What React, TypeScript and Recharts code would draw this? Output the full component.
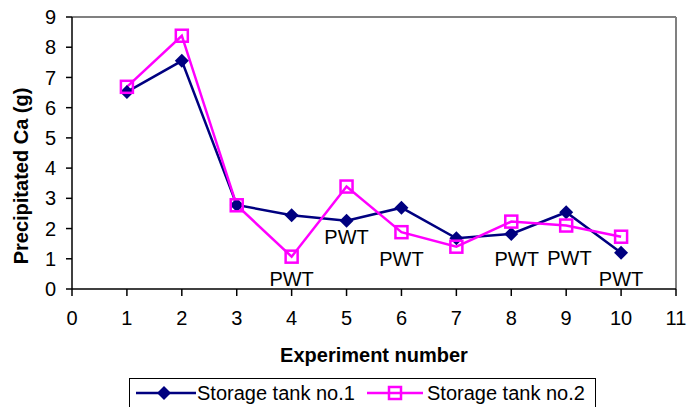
import { ComposedChart, Line, XAxis, YAxis, ReferenceLine, ReferenceDot } from 'recharts';

const experiments = [1, 2, 3, 4, 5, 6, 7, 8, 9, 10];
const tank1 = [6.52, 7.55, 2.78, 2.44, 2.26, 2.69, 1.68, 1.82, 2.54, 1.2];
const tank2 = [6.69, 8.38, 2.77, 1.07, 3.39, 1.88, 1.4, 2.23, 2.1, 1.73];

// "PWT" annotations (experiment, height in g)
const pwtX = [4, 5, 6, 8.1, 9.06, 10];
const pwtY = [0.34, 1.71, 0.99, 0.99, 1.04, 0.33];

const xTicks = [0, 1, 2, 3, 4, 5, 6, 7, 8, 9, 10, 11];
const yTicks = [0, 1, 2, 3, 4, 5, 6, 7, 8, 9];

const data = experiments.map((x, i) => ({ x, tank1: tank1[i], tank2: tank2[i] }));

const FONT = '"Liberation Sans", Arial, sans-serif';
const NAVY = '#000080';
const MAGENTA = '#FF00FF';

const Diamond = ({ cx, cy }: any) => (
  <path d={`M${cx} ${cy - 7}L${cx + 7} ${cy}L${cx} ${cy + 7}L${cx - 7} ${cy}Z`} fill={NAVY} />
);

const Square = ({ cx, cy }: any) => (
  <rect x={cx - 6} y={cy - 6} width={12} height={12} fill="none" stroke={MAGENTA} strokeWidth={2.5} />
);

const YTitle = ({ viewBox }: any) => {
  const x = viewBox.x + 11;
  const y = viewBox.y + viewBox.height / 2 + 23;
  return (
    <text x={x} y={y} transform={`rotate(-90 ${x} ${y})`} textAnchor="middle" dominantBaseline="central"
      fontSize={20} fontWeight="bold" fontFamily={FONT} fill="#000">
      Precipitated Ca (g)
    </text>
  );
};

const XTitle = ({ viewBox }: any) => (
  <text x={viewBox.x + viewBox.width / 2} y={362} textAnchor="middle"
    fontSize={20} fontWeight="bold" fontFamily={FONT} fill="#000">
    Experiment number
  </text>
);

const tickStyle = { fill: '#000', fontSize: 20, fontFamily: FONT };

export default function App() {
  return (
    <div style={{ position: 'absolute', left: 0, top: 0, width: 697, height: 407, background: '#fff', fontFamily: FONT }}>
      <ComposedChart width={697} height={407} data={data} margin={{ top: 17, right: 21, left: 10, bottom: 78 }}>
        <XAxis dataKey="x" type="number" domain={[0, 11]} ticks={xTicks} interval={0} height={40}
          tickSize={7} tickMargin={15} tick={tickStyle}
          axisLine={{ stroke: '#000', strokeWidth: 1.5 }} tickLine={{ stroke: '#000', strokeWidth: 1.5 }}
          label={<XTitle />} />
        <YAxis type="number" domain={[0, 9]} ticks={yTicks} interval={0} width={62}
          tickSize={6} tickMargin={10} tick={tickStyle}
          axisLine={{ stroke: '#000', strokeWidth: 1.5 }} tickLine={{ stroke: '#000', strokeWidth: 1.5 }}
          label={<YTitle />} />
        <ReferenceLine y={9} stroke="#808080" strokeWidth={2} />
        <ReferenceLine x={11} stroke="#808080" strokeWidth={2} />
        <Line dataKey="tank1" stroke={NAVY} strokeWidth={2.5} dot={<Diamond />} activeDot={false} isAnimationActive={false} />
        <Line dataKey="tank2" stroke={MAGENTA} strokeWidth={2.5} dot={<Square />} activeDot={false} isAnimationActive={false} />
        {pwtX.map((x, i) => (
          <ReferenceDot key={i} x={x} y={pwtY[i]} r={0} fill="none" stroke="none"
            label={{ value: 'PWT', position: 'center', fill: '#000', fontSize: 20, fontFamily: FONT }} />
        ))}
      </ComposedChart>
      <div style={{ position: 'absolute', left: 129, top: 378, width: 467, height: 40, border: '1px solid #000', boxSizing: 'border-box' }}>
        <svg width={62} height={30} style={{ position: 'absolute', left: 5, top: 0 }}>
          <line x1={1} y1={14} x2={61} y2={14} stroke={NAVY} strokeWidth={2.5} />
          <path d="M29 7L36 14L29 21L22 14Z" fill={NAVY} />
        </svg>
        <span style={{ position: 'absolute', left: 67, top: 2, fontSize: 20, lineHeight: '24px', color: '#000', whiteSpace: 'nowrap' }}>
          Storage tank no.1
        </span>
        <svg width={62} height={30} style={{ position: 'absolute', left: 236, top: 0 }}>
          <line x1={1} y1={14} x2={57} y2={14} stroke={MAGENTA} strokeWidth={2.5} />
          <rect x={23} y={8} width={12} height={12} fill="none" stroke={MAGENTA} strokeWidth={2.5} />
        </svg>
        <span style={{ position: 'absolute', left: 297, top: 2, fontSize: 20, lineHeight: '24px', color: '#000', whiteSpace: 'nowrap' }}>
          Storage tank no.2
        </span>
      </div>
    </div>
  );
}
